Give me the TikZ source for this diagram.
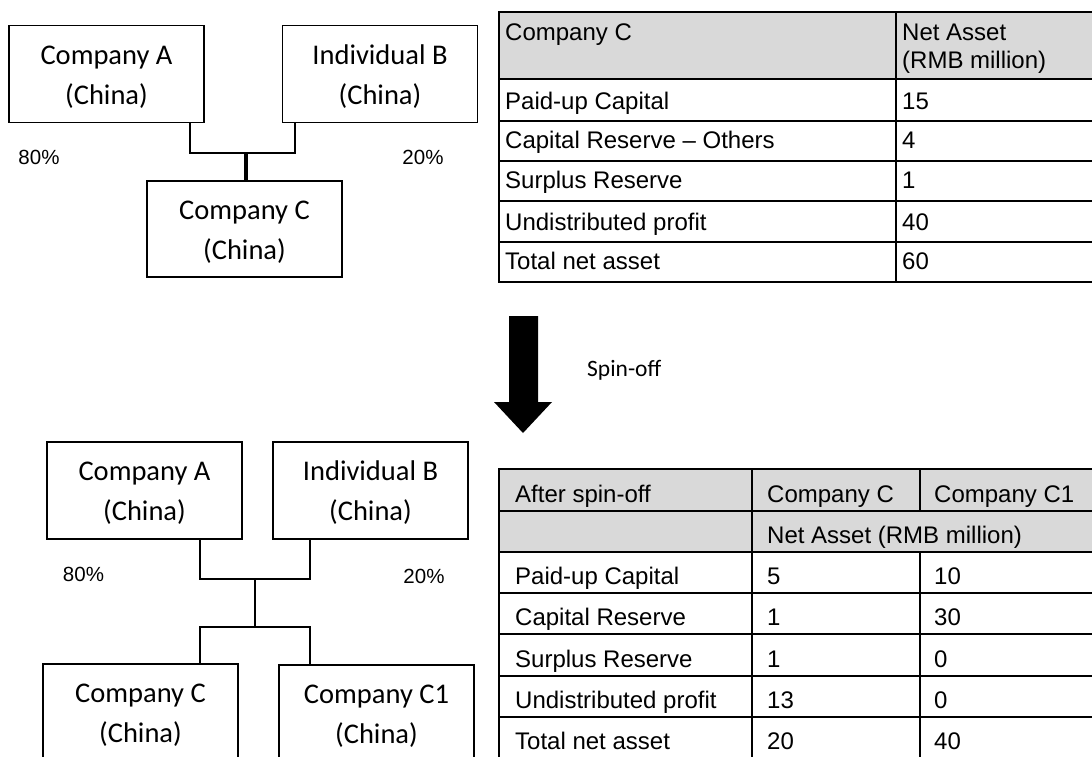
\documentclass[tikz,border=0pt]{standalone}
\usepackage{fontspec}
\setmainfont{Carlito}
\newfontfamily\tabfont{Liberation Sans}
\newfontfamily\boxfont{Carlito}
\definecolor{hdrgray}{HTML}{D9D9D9}
\newcommand{\toplinestrut}{\rule{0pt}{28pt}}
\newcommand{\botlinestrut}{\rule[-8pt]{0pt}{8pt}}
\newcommand{\orgtext}[2]{\toplinestrut#1\\#2\botlinestrut}
\begin{document}
\begin{tikzpicture}[x=1pt,y=-1pt,
  orgbox/.style={draw, line width=1.8pt, minimum width=195pt, minimum height=97pt, inner sep=0pt, align=center, font=\boxfont\fontsize{28.5}{40}\selectfont},
  pct/.style={font=\tabfont\fontsize{20.5}{24}\selectfont, inner sep=0pt},
  cell/.style={anchor=base west, inner sep=0pt, font=\tabfont\fontsize{24}{28}\selectfont},
  link/.style={line width=1.8pt},
  grid/.style={line width=2pt, line cap=rect}]
\useasboundingbox (0,0) rectangle (1092,756);
\clip (0,0) rectangle (1092,756);

% ---------- top ownership chart ----------
\node[orgbox] (A) at (106.5,74) {\orgtext{Company A}{(China)}};
\node[orgbox] (B) at (380,74) {\orgtext{Individual B}{(China)}};
\node[orgbox, minimum height=96pt] (C) at (244.5,229) {\orgtext{Company C}{(China)}};
\coordinate (j1) at (246,153);
\draw[link] ([xshift=-15pt]A.south east) |- (j1) -| ([xshift=13pt]B.south west);
\draw[line width=3.2pt] (j1) -- (C.north -| j1);
\node[pct] (p1) at (39,157) {80\%};
\node[pct] (p2) at (423,157) {20\%};

% ---------- top table ----------
\fill[hdrgray] (499,12) rectangle (1100,79);
\foreach \y in {12,79,121,161,201,242,282} \draw[grid] (499,\y) -- (1100,\y);
\draw[grid] (499,12) -- (499,282);
\draw[grid] (896,12) -- (896,282);
\node[cell] (t00) at (505,40) {Company C};
\node[cell] (t01) at (902,40) {Net Asset};
\node[cell] (t02) at (902,68) {(RMB million)};
\node[cell] (t10) at (505,109) {Paid-up Capital};
\node[cell] (t11) at (902,109) {15};
\node[cell] (t20) at (505,148) {Capital Reserve – Others};
\node[cell] (t21) at (902,148) {4};
\node[cell] (t30) at (505,188) {Surplus Reserve};
\node[cell] (t31) at (902,188) {1};
\node[cell] (t40) at (505,230) {Undistributed profit};
\node[cell] (t41) at (902,230) {40};
\node[cell] (t50) at (505,269) {Total net asset};
\node[cell] (t51) at (902,269) {60};

% ---------- spin-off arrow ----------
\fill (509,316) -- (538,316) -- (538,402) -- (552,402) -- (523,433) -- (494,402) -- (509,402) -- cycle;
\node[anchor=base west, inner sep=0pt, font=\boxfont\fontsize{23.5}{28}\selectfont] (spin) at (587,376) {Spin-off};

% ---------- bottom ownership chart ----------
\node[orgbox] (A2) at (144.5,490.5) {\orgtext{Company A}{(China)}};
\node[orgbox] (B2) at (370.5,490.5) {\orgtext{Individual B}{(China)}};
\node[orgbox] (C2) at (140.5,712.5) {\orgtext{Company C}{(China)}};
\node[orgbox] (C1) at (376.5,713.5) {\orgtext{Company C1}{(China)}};
\coordinate (j2) at (255,579);
\coordinate (j3) at (255,627);
\draw[link] ([xshift=-43pt]A2.south east) |- (j2) -| ([xshift=38pt]B2.south west);
\draw[link] (j2) -- (j3);
\draw[link] ([xshift=-39pt]C2.north east) |- (j3) -| ([xshift=32pt]C1.north west);
\node[pct] (p3) at (83.5,574) {80\%};
\node[pct] (p4) at (424,576) {20\%};

% ---------- bottom table ----------
\fill[hdrgray] (499,469) rectangle (1100,552);
\foreach \y in {469,511,552,593,634,676,717,758} \draw[grid] (499,\y) -- (1100,\y);
\draw[grid] (499,469) -- (499,760);
\draw[grid] (752,469) -- (752,760);
\draw[grid] (920,469) -- (920,511);
\draw[grid] (920,552) -- (920,760);
\node[cell] (b00) at (515,502) {After spin-off};
\node[cell] (b01) at (767,502) {Company C};
\node[cell] (b02) at (934,502) {Company C1};
\node[cell] (b11) at (767,543) {Net Asset (RMB million)};
\node[cell] (b20) at (515,584) {Paid-up Capital};
\node[cell] (b21) at (767,584) {5};
\node[cell] (b22) at (934,584) {10};
\node[cell] (b30) at (515,625) {Capital Reserve};
\node[cell] (b31) at (767,625) {1};
\node[cell] (b32) at (934,625) {30};
\node[cell] (b40) at (515,667) {Surplus Reserve};
\node[cell] (b41) at (767,667) {1};
\node[cell] (b42) at (934,667) {0};
\node[cell] (b50) at (515,708) {Undistributed profit};
\node[cell] (b51) at (767,708) {13};
\node[cell] (b52) at (934,708) {0};
\node[cell] (b60) at (515,749) {Total net asset};
\node[cell] (b61) at (767,749) {20};
\node[cell] (b62) at (934,749) {40};
\end{tikzpicture}
\end{document}
